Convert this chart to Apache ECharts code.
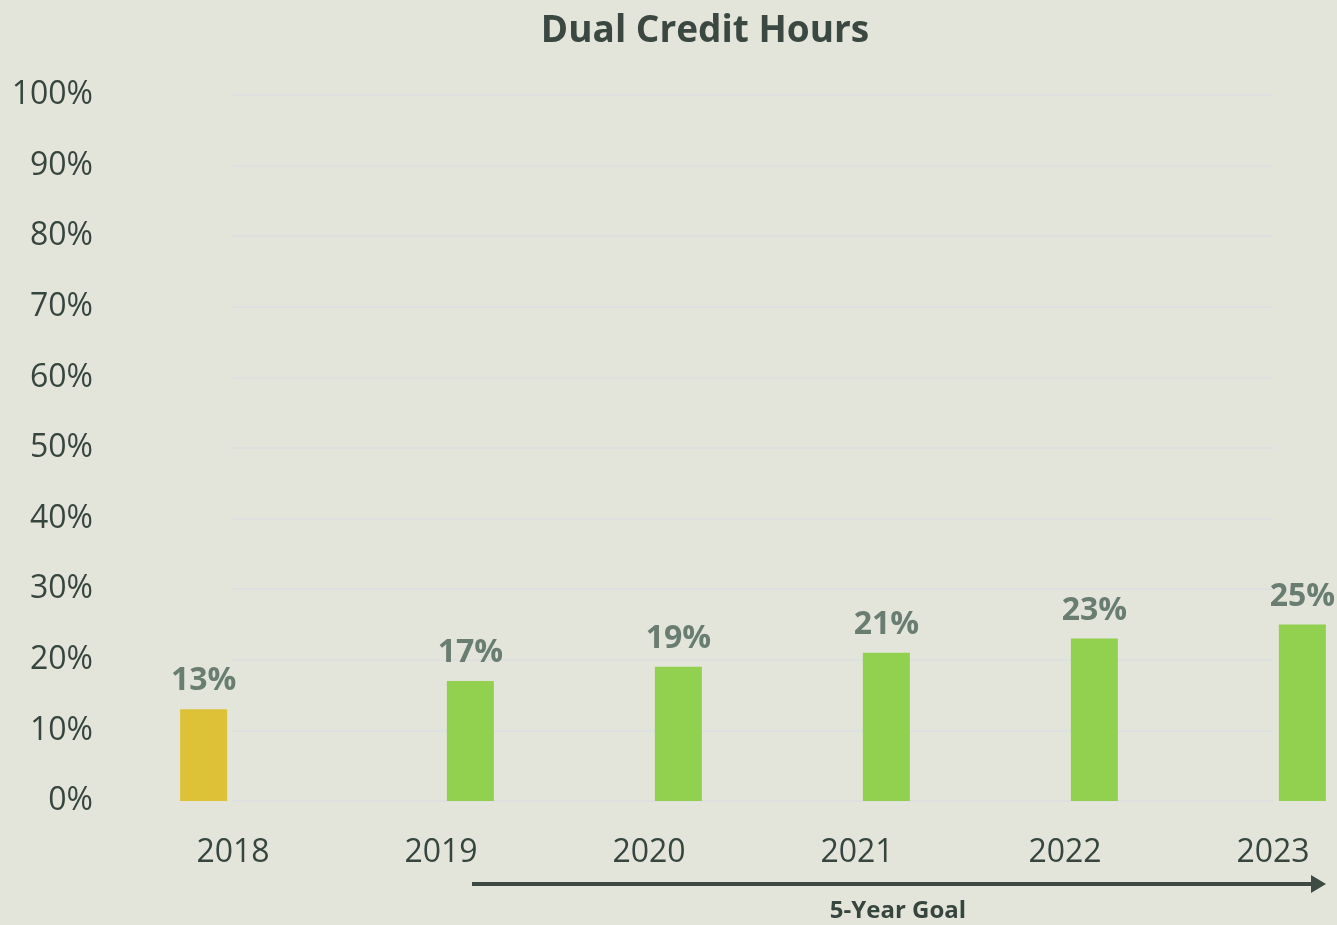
<!DOCTYPE html>
<html>
	<head>
		<meta charset="utf-8">
		<script src="https://cdn.jsdelivr.net/npm/echarts@6/dist/echarts.min.js"></script>
		<title>Dual Credit Hours</title>
		<style>
			html, body { margin: 0; padding: 0; background: #E3E5DA; }
			#chart { width: 1337px; height: 925px; }
		</style>
	</head>
	<body>
	<div id="chart"></div>
	<script>
		// data
		const years = ['2018', '2019', '2020', '2021', '2022', '2023'];
		const baseline = [13, '-', '-', '-', '-', '-'];
		const goalValues = ['-', 17, 19, 21, 23, 25];
		const yTicks = [0, 10, 20, 30, 40, 50, 60, 70, 80, 90, 100];

		const chart = echarts.init(document.getElementById('chart'));

		const labelStyle = {
			show: true,
			position: 'top',
			distance: 12,
			formatter: '{c}%',
			color: '#6A7D71',
			fontFamily: 'Open Sans',
			fontWeight: 'bold',
			fontSize: 32
		};

		chart.setOption({
			backgroundColor: '#E3E5DA',
			animation: false,
			title: {
				text: 'Dual Credit Hours',
				left: 700,
				top: 8,
				textAlign: 'center',
				textStyle: {
					color: '#3B4842',
					fontFamily: 'Open Sans',
					fontWeight: 'bold',
					fontSize: 37
				}
			},
			// category centres sit on the grid edges, bars are pushed sideways by barGap
			grid: {
				left: 233,
				right: 64,
				top: 95,
				bottom: 124,
				containLabel: false
			},
			xAxis: {
				type: 'category',
				data: years,
				boundaryGap: false,
				axisLine: { show: false },
				axisTick: { show: false },
				splitLine: { show: false },
				axisLabel: {
					margin: 36,
					color: '#37453F',
					fontFamily: 'Open Sans',
					fontSize: 32
				}
			},
			yAxis: {
				type: 'value',
				min: yTicks[0],
				max: yTicks[yTicks.length - 1],
				interval: 10,
				axisLine: { show: false },
				axisTick: { show: false },
				axisLabel: {
					margin: 140,
					padding: [6, 0, 0, 0],
					color: '#37453F',
					fontFamily: 'Open Sans',
					fontSize: 32,
					formatter: '{value}%'
				},
				splitLine: { lineStyle: { color: '#DDE0DE', width: 2 } }
			},
			series: [
				{
					name: 'Baseline',
					type: 'bar',
					data: baseline,
					barWidth: 47,
					barGap: '25%',
					clip: false,
					itemStyle: { color: '#DDC136' },
					label: labelStyle
				},
				{
					name: '5-Year Goal',
					type: 'bar',
					data: goalValues,
					barWidth: 47,
					barGap: '25%',
					clip: false,
					itemStyle: { color: '#92D050' },
					label: labelStyle
				}
			],
			graphic: [
				{
					type: 'line',
					shape: { x1: 472, y1: 884, x2: 1314, y2: 884 },
					style: { stroke: '#3E4A44', lineWidth: 4 }
				},
				{
					type: 'polygon',
					shape: { points: [[1311, 875], [1326, 884], [1311, 893]] },
					style: { fill: '#3E4A44' }
				},
				{
					type: 'text',
					x: 898,
					y: 911,
					style: {
						text: '5-Year Goal',
						align: 'center',
						verticalAlign: 'middle',
						fill: '#37453F',
						font: 'bold 24px "Open Sans"'
					}
				}
			]
		});
	</script>
	</body>
</html>
